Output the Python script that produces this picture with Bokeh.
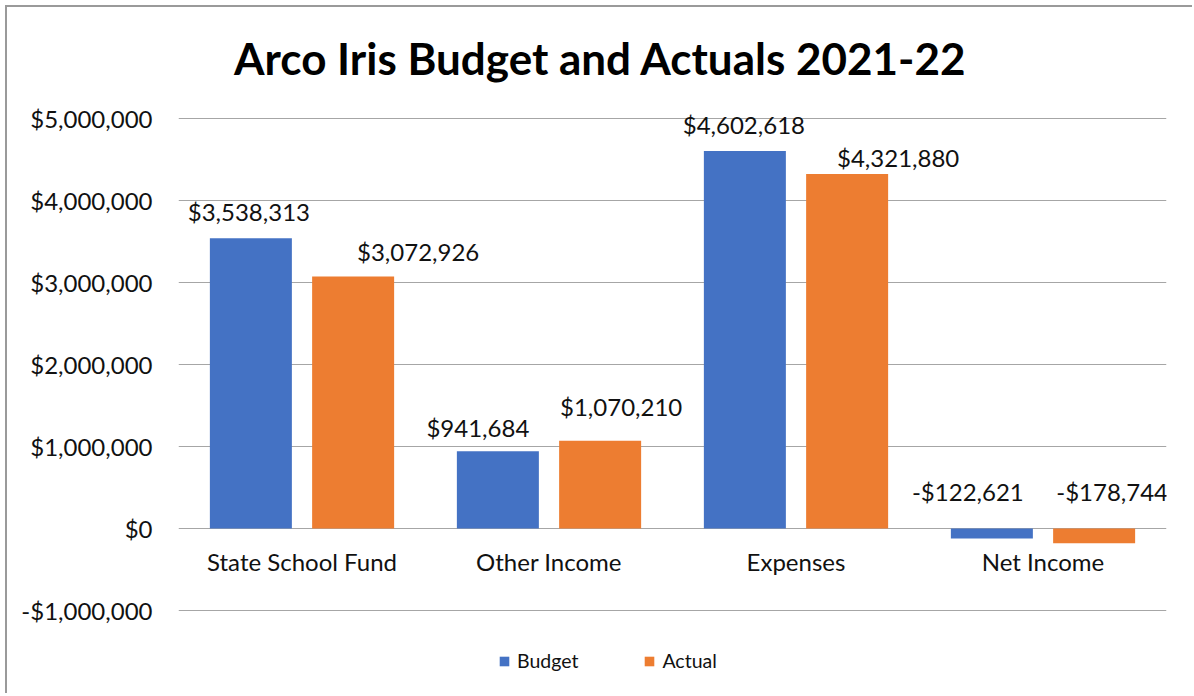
from bokeh.plotting import figure
from bokeh.models import (ColumnDataSource, FactorRange, Range1d, FixedTicker,
                          Legend, LegendItem, LabelSet, Label)
from bokeh.transform import dodge
from bokeh.core.properties import value
from bokeh.embed import file_html
from bokeh.resources import INLINE

# ---- data ----
categories = ["State School Fund", "Other Income", "Expenses", "Net Income"]
budget = [3538313, 941684, 4602618, -122621]
actual = [3072926, 1070210, 4321880, -178744]
y_ticks = [-1000000, 0, 1000000, 2000000, 3000000, 4000000, 5000000]
y_tick_labels = ["-$1,000,000", "$0", "$1,000,000", "$2,000,000",
                 "$3,000,000", "$4,000,000", "$5,000,000"]
title_text = "Arco Iris Budget and Actuals 2021-22"

# ---- label nudges (screen px, layout only) ----
budget_label_dx = [-2, -20, -1, -24]
budget_label_dy = [27, 24, 27, 37]
actual_label_dx = [65, 21, 51, 18]
actual_label_dy = [25, 34, 17, 37]

BLUE = "#4472C4"
ORANGE = "#ED7D31"
FONT = "Lato"
TXT = "#111111"

# layout (screen px): 82 px per $1,000,000; canvas top at page y=7,
# $5M gridline at page y=118, frame reaches the canvas top so that
# text above the bars is not clipped
PX_PER_UNIT = 82 / 1000000
CANVAS_TOP = 7
GRID5_Y = 118
TITLE_Y_PX = 57
FRAME_H = 684
Y_TOP = 5000000 + (GRID5_Y - CANVAS_TOP) / PX_PER_UNIT
Y_BOT = Y_TOP - FRAME_H / PX_PER_UNIT
TITLE_Y = 5000000 + (GRID5_Y - TITLE_Y_PX) / PX_PER_UNIT


def money(v):
    s = "${:,.0f}".format(abs(v))
    return "-" + s if v < 0 else s


src_b = ColumnDataSource(dict(
    cat=categories, val=budget, top=[max(v, 0) for v in budget],
    lab=[money(v) for v in budget], dx=budget_label_dx, dy=budget_label_dy))
src_a = ColumnDataSource(dict(
    cat=categories, val=actual, top=[max(v, 0) for v in actual],
    lab=[money(v) for v in actual], dx=actual_label_dx, dy=actual_label_dy))
src_c = ColumnDataSource(dict(cat=categories, y=[0] * len(categories)))

p = figure(width=1187, height=688, output_backend="svg", toolbar_location=None,
           x_range=FactorRange(factors=categories, range_padding=0),
           y_range=Range1d(Y_BOT, Y_TOP),
           min_border_left=171, min_border_right=28,
           min_border_top=0, min_border_bottom=4)

p.styles = {"margin-left": "5px", "margin-top": "5px",
            "border-left": "2px solid #9a9a9a", "border-top": "2px solid #9a9a9a"}

# chart title
p.add_layout(Label(x=422, y=TITLE_Y, x_units="screen", y_units="data",
                   text=title_text, text_align="center",
                   text_baseline="alphabetic", text_font=FONT,
                   text_font_style="bold", text_font_size="44px",
                   text_color="#000000"))

rb = p.vbar(x=dodge("cat", -0.207, range=p.x_range), top="val", bottom=0,
            width=0.332, source=src_b, fill_color=BLUE, line_color=None)
ra = p.vbar(x=dodge("cat", 0.207, range=p.x_range), top="val", bottom=0,
            width=0.332, source=src_a, fill_color=ORANGE, line_color=None)

for src, off in ((src_b, -0.207), (src_a, 0.207)):
    p.add_layout(LabelSet(x=dodge("cat", off, range=p.x_range), y="top",
                          text="lab", x_offset="dx", y_offset="dy", source=src,
                          text_align="center", text_baseline="middle",
                          text_font=value(FONT), text_font_size="24px",
                          text_color=TXT))

p.text(x="cat", y="y", text="cat", source=src_c, y_offset=33,
       text_align="center", text_baseline="middle",
       text_font=value(FONT), text_font_size="24px", text_color=TXT)

p.xaxis.visible = False
p.xgrid.visible = False
p.yaxis.ticker = FixedTicker(ticks=y_ticks)
p.yaxis.major_label_overrides = {t: l for t, l in zip(y_ticks, y_tick_labels)}
p.yaxis.axis_line_color = None
p.yaxis.major_tick_line_color = None
p.yaxis.minor_tick_line_color = None
p.yaxis.major_tick_out = 0
p.yaxis.major_label_standoff = 26
p.yaxis.major_label_text_font = FONT
p.yaxis.major_label_text_font_size = "24px"
p.yaxis.major_label_text_color = TXT
p.ygrid.ticker = FixedTicker(ticks=y_ticks)
p.ygrid.grid_line_color = "#a6a6a6"
p.ygrid.grid_line_width = 1
p.outline_line_color = None

legend = Legend(items=[LegendItem(label="Budget", renderers=[rb]),
                       LegendItem(label="Actual", renderers=[ra])],
                location=(320, 19), orientation="horizontal",
                glyph_width=12, glyph_height=12, label_standoff=7,
                spacing=65, padding=0, margin=0,
                label_text_font=FONT, label_text_font_size="19.5px",
                label_text_color=TXT, border_line_color=None,
                background_fill_alpha=0)
p.add_layout(legend, "center")

open("out.html", "w").write(file_html(p, INLINE))
